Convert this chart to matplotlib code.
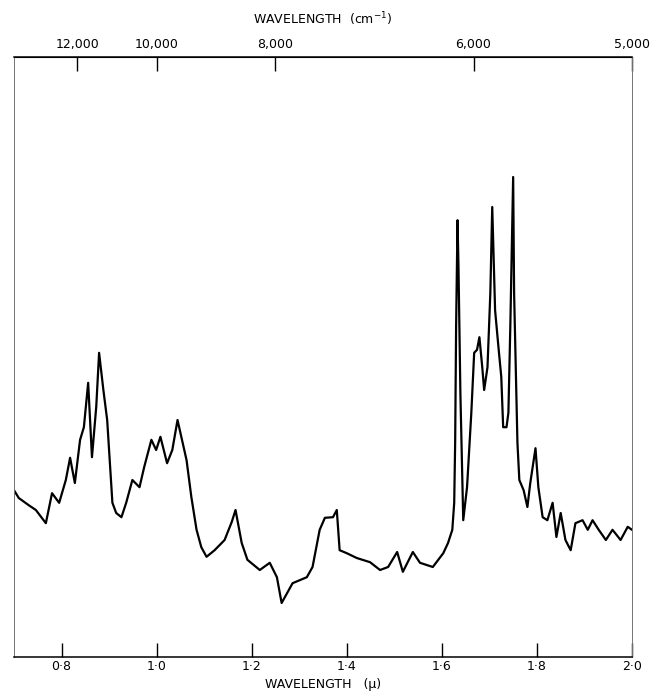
import matplotlib.pyplot as plt
import numpy as np

# wavelength in microns and relative intensity
wavelength = [0.700, 0.710, 0.731, 0.746, 0.767, 0.780, 0.795, 0.809, 0.818, 0.828,
              0.839, 0.847, 0.856, 0.864, 0.873, 0.879, 0.888, 0.896, 0.907, 0.915,
              0.926, 0.936, 0.949, 0.964, 0.974, 0.989, 0.999, 1.008, 1.022, 1.033,
              1.044, 1.063, 1.073, 1.084, 1.094, 1.105, 1.122, 1.143, 1.158, 1.166,
              1.179, 1.191, 1.217, 1.238, 1.253, 1.263, 1.286, 1.316, 1.328, 1.343,
              1.354, 1.371, 1.379, 1.385, 1.400, 1.421, 1.449, 1.470, 1.487, 1.506,
              1.518, 1.539, 1.554, 1.581, 1.603, 1.613, 1.622, 1.626, 1.628, 1.630,
              1.633, 1.635, 1.639, 1.645, 1.653, 1.662, 1.668, 1.674, 1.679, 1.685,
              1.689, 1.696, 1.702, 1.706, 1.712, 1.719, 1.725, 1.729, 1.736, 1.740,
              1.744, 1.750, 1.752, 1.759, 1.763, 1.772, 1.780, 1.786, 1.797, 1.803,
              1.812, 1.822, 1.833, 1.841, 1.850, 1.860, 1.871, 1.881, 1.896, 1.907,
              1.917, 1.930, 1.945, 1.959, 1.976, 1.991, 2.000]
intensity = [27.8, 26.5, 25.3, 24.5, 22.3, 27.3, 25.7, 29.5, 33.2, 29.0,
             36.2, 38.3, 45.7, 33.3, 41.7, 50.7, 44.5, 39.5, 25.7, 24.0,
             23.3, 25.7, 29.5, 28.3, 31.7, 36.2, 34.5, 36.7, 32.3, 34.5,
             39.5, 32.8, 26.7, 21.2, 18.3, 16.7, 17.8, 19.5, 22.5, 24.5,
             19.0, 16.2, 14.5, 15.7, 13.3, 9.0, 12.3, 13.3, 15.0, 21.2,
             23.2, 23.3, 24.5, 17.8, 17.3, 16.5, 15.8, 14.5, 15.0, 17.5,
             14.2, 17.5, 15.7, 15.0, 17.3, 19.0, 21.2, 25.7, 35.7, 55.0,
             72.8, 65.0, 44.0, 22.8, 28.3, 40.7, 50.7, 51.2, 53.3, 48.3,
             44.5, 48.3, 60.7, 75.0, 57.8, 51.7, 46.7, 38.3, 38.3, 40.7,
             55.0, 80.0, 60.7, 35.7, 29.5, 27.8, 25.0, 29.0, 34.8, 28.3,
             23.3, 22.8, 25.7, 20.0, 24.0, 19.5, 17.8, 22.3, 22.8, 21.2,
             22.8, 21.2, 19.5, 21.2, 19.5, 21.7, 21.2]

micron_ticks = [0.8, 1.0, 1.2, 1.4, 1.6, 1.8, 2.0]
micron_labels = ['0\u00b78', '1\u00b70', '1\u00b72', '1\u00b74', '1\u00b76', '1\u00b78', '2\u00b70']
wavenumber_ticks = [12000, 10000, 8000, 6000, 5000]
wavenumber_labels = ['12,000', '10,000', '8,000', '6,000', '5,000']

fig = plt.figure(figsize=(6.52, 6.96), dpi=100)
ax = fig.add_axes([14/652, 39/696, 618/652, 600/696])

ax.plot(wavelength, intensity, color='black', lw=1.6)
ax.set_xlim(0.7, 2.0)
ax.set_ylim(0, 100)
ax.set_yticks([])

ax.set_xticks(micron_ticks)
ax.set_xticklabels(micron_labels, fontsize=9)
ax.tick_params(axis='x', direction='in', length=10, width=1.0, pad=2)
ax.set_xlabel('WAVELENGTH   (\u03bc)', fontsize=9, labelpad=4)

for side in ['left', 'right']:
    ax.spines[side].set_color('0.45')
    ax.spines[side].set_linewidth(0.7)
for side in ['top', 'bottom']:
    ax.spines[side].set_linewidth(1.1)

top = ax.secondary_xaxis('top', functions=(lambda x: 1e4 / x, lambda x: 1e4 / x))
top.set_xticks(wavenumber_ticks)
top.set_xticklabels(wavenumber_labels, fontsize=9)
top.tick_params(direction='in', length=10, width=1.0, pad=4)
top.set_xlabel('WAVELENGTH  (cm$^{-1}$)', fontsize=9, labelpad=10)

plt.savefig('out.png', dpi=100)
